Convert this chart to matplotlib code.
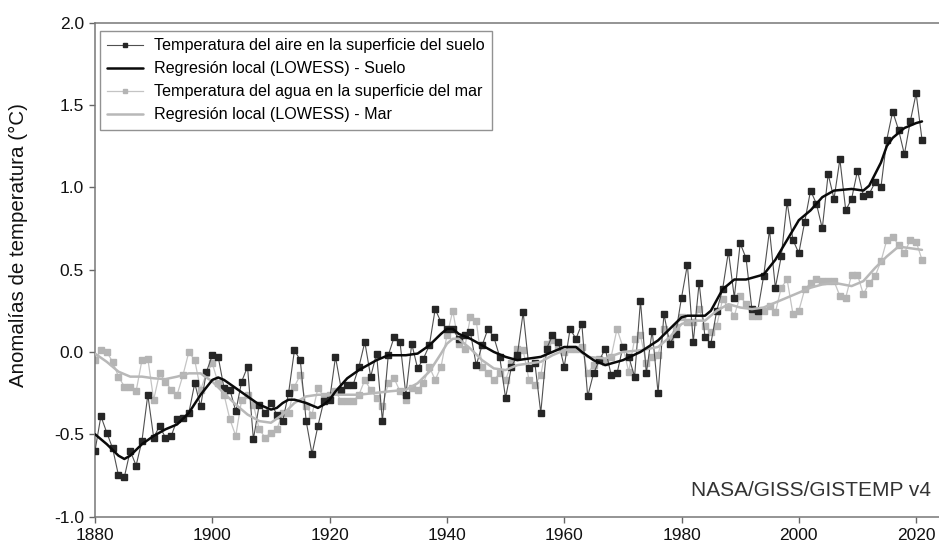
import numpy as np
import matplotlib
matplotlib.use("Agg")
import matplotlib.pyplot as plt

plt.rcParams['font.family'] = ['Liberation Sans', 'DejaVu Sans']

# Años 1880-2021
years = list(range(1880, 2022))

# Temperatura del aire en la superficie del suelo (°C)
land = [
    -0.60, -0.39, -0.49, -0.585, -0.75, -0.76, -0.60, -0.69, -0.54, -0.26,
    -0.52, -0.45, -0.52, -0.51, -0.41, -0.40, -0.37, -0.19, -0.33, -0.12,
    -0.02, -0.03, -0.22, -0.23, -0.36, -0.18, -0.09, -0.53, -0.32, -0.37,
    -0.31, -0.38, -0.42, -0.25, 0.01, -0.05, -0.42, -0.62, -0.45, -0.30,
    -0.29, -0.03, -0.23, -0.20, -0.20, -0.09, 0.06, -0.15, -0.01, -0.42,
    -0.02, 0.09, 0.06, -0.26, 0.05, -0.10, -0.04, 0.04, 0.26, 0.18,
    0.14, 0.14, 0.08, 0.10, 0.12, -0.08, 0.04, 0.14, 0.09, -0.03,
    -0.28, -0.09, -0.02, 0.24, -0.10, -0.07, -0.37, 0.02, 0.10, 0.06,
    -0.09, 0.14, 0.08, 0.17, -0.27, -0.13, -0.05, 0.02, -0.14, -0.13,
    0.03, -0.03, -0.15, 0.31, -0.13, 0.13, -0.25, 0.23, 0.05, 0.11,
    0.33, 0.53, 0.06, 0.42, 0.09, 0.05, 0.25, 0.38, 0.61, 0.33,
    0.66, 0.57, 0.26, 0.25, 0.46, 0.74, 0.39, 0.58, 0.91, 0.68,
    0.60, 0.79, 0.98, 0.90, 0.75, 1.08, 0.93, 1.17, 0.86, 0.93,
    1.10, 0.95, 0.96, 1.03, 1.00, 1.29, 1.46, 1.35, 1.20, 1.40,
    1.57, 1.29,
]

# Temperatura del agua en la superficie del mar (°C)
sea = [
    -0.05, 0.01, 0.00, -0.06, -0.15, -0.21, -0.21, -0.24, -0.05, -0.04,
    -0.29, -0.13, -0.18, -0.23, -0.26, -0.14, 0.00, -0.05, -0.23, -0.13,
    -0.07, -0.19, -0.26, -0.41, -0.51, -0.29, -0.26, -0.32, -0.47, -0.52,
    -0.49, -0.47, -0.37, -0.37, -0.21, -0.14, -0.33, -0.38, -0.22, -0.27,
    -0.26, -0.24, -0.30, -0.30, -0.30, -0.26, -0.17, -0.23, -0.28, -0.33,
    -0.19, -0.16, -0.24, -0.29, -0.22, -0.23, -0.19, -0.09, -0.17, -0.09,
    0.10, 0.25, 0.05, 0.02, 0.21, 0.19, -0.09, -0.13, -0.17, -0.13,
    -0.17, -0.07, 0.02, 0.01, -0.17, -0.20, -0.14, 0.05, 0.07, 0.03,
    0.00, 0.02, 0.02, 0.03, -0.13, -0.08, -0.04, -0.06, -0.03, 0.14,
    0.03, -0.12, 0.08, 0.10, -0.07, -0.03, -0.02, 0.14, 0.08, 0.15,
    0.21, 0.18, 0.18, 0.26, 0.16, 0.12, 0.16, 0.32, 0.27, 0.22,
    0.34, 0.29, 0.22, 0.22, 0.25, 0.28, 0.24, 0.39, 0.44, 0.23,
    0.25, 0.38, 0.42, 0.44, 0.43, 0.43, 0.43, 0.34, 0.33, 0.47,
    0.47, 0.35, 0.42, 0.46, 0.55, 0.68, 0.70, 0.65, 0.60, 0.68,
    0.67, 0.56,
]

# Regresión local (LOWESS)
lowess_land_years = [
    1880, 1882, 1884, 1885, 1886, 1888, 1890, 1892, 1894, 1896, 1898, 1900,
    1901, 1902, 1904, 1906, 1908, 1910, 1911, 1912, 1913, 1914, 1916, 1918,
    1919, 1920, 1921, 1923, 1925, 1928, 1930, 1933, 1935, 1937, 1939, 1940,
    1941, 1942, 1944, 1946, 1948, 1950, 1952, 1954, 1956, 1958, 1960, 1962,
    1963, 1965, 1967, 1970, 1973, 1976, 1978, 1980, 1981, 1982, 1983, 1984,
    1985, 1987, 1989, 1991, 1993, 1994, 1996, 1998, 2000, 2002, 2003, 2004,
    2006, 2009, 2011, 2012, 2014, 2015, 2016, 2018, 2020, 2021,
]
lowess_land = [
    -0.50, -0.56, -0.63, -0.65, -0.63, -0.56, -0.51, -0.47, -0.44, -0.37, -0.26, -0.17,
    -0.155, -0.17, -0.22, -0.27, -0.32, -0.35, -0.34, -0.31, -0.29, -0.29, -0.31, -0.34,
    -0.32, -0.29, -0.24, -0.16, -0.11, -0.05, -0.02, -0.02, -0.01, 0.04, 0.11, 0.14,
    0.14, 0.11, 0.08, 0.04, 0.00, -0.03, -0.05, -0.04, -0.03, 0.00, 0.03, 0.03,
    0.00, -0.05, -0.08, -0.05, 0.00, 0.07, 0.14, 0.21, 0.22, 0.22, 0.22, 0.22,
    0.25, 0.38, 0.44, 0.44, 0.46, 0.47, 0.56, 0.68, 0.80, 0.86, 0.90, 0.94,
    0.98, 0.99, 0.98, 1.01, 1.15, 1.25, 1.30, 1.36, 1.39, 1.40,
]

lowess_sea_years = [
    1880, 1882, 1884, 1886, 1888, 1890, 1892, 1894, 1896, 1898, 1900, 1902,
    1904, 1906, 1908, 1910, 1912, 1914, 1916, 1918, 1920, 1925, 1930, 1933,
    1935, 1937, 1939, 1940, 1941, 1942, 1944, 1946, 1948, 1950, 1952, 1954,
    1956, 1958, 1960, 1962, 1964, 1967, 1970, 1973, 1976, 1978, 1980, 1982,
    1984, 1986, 1988, 1990, 1992, 1994, 1996, 1998, 2000, 2002, 2004, 2006,
    2009, 2011, 2013, 2015, 2017, 2019, 2021,
]
lowess_sea = [
    -0.01, -0.06, -0.12, -0.15, -0.15, -0.16, -0.165, -0.15, -0.13, -0.13, -0.18, -0.25,
    -0.32, -0.38, -0.42, -0.43, -0.38, -0.31, -0.27, -0.26, -0.26, -0.26, -0.24, -0.23,
    -0.19, -0.12, -0.01, 0.05, 0.08, 0.08, 0.02, -0.05, -0.10, -0.11, -0.08, -0.07,
    -0.06, -0.02, 0.01, 0.02, -0.03, -0.04, 0.00, 0.01, 0.03, 0.09, 0.17, 0.19,
    0.19, 0.25, 0.29, 0.27, 0.26, 0.27, 0.30, 0.33, 0.36, 0.39, 0.41, 0.42,
    0.40, 0.43, 0.51, 0.58, 0.64, 0.63, 0.62,
]

fig = plt.figure(figsize=(9.39, 5.47), dpi=100)
ax = fig.add_axes([0.1012, 0.0556, 0.8988, 0.903])

ax.plot(years, sea, color='#c4c4c4', lw=0.9, marker='s', ms=4.4,
        mfc='#b4b4b4', mec='#b4b4b4', zorder=2,
        label='Temperatura del agua en la superficie del mar')
ax.plot(years, land, color='#505050', lw=0.8, marker='s', ms=4.4,
        mfc='#262626', mec='#262626', zorder=3,
        label='Temperatura del aire en la superficie del suelo')
ax.plot(lowess_sea_years, lowess_sea, color='#b8b8b8', lw=1.8, zorder=4,
        solid_capstyle='round', label='Regresión local (LOWESS) - Mar')
ax.plot(lowess_land_years, lowess_land, color='#0a0a0a', lw=1.8, zorder=5,
        solid_capstyle='round', label='Regresión local (LOWESS) - Suelo')

ax.set_xlim(1880, 2023.9)
ax.set_ylim(-1.0, 2.0)
ax.set_xticks(range(1880, 2021, 20))
ax.set_yticks(np.arange(-1.0, 2.01, 0.5))
ax.set_yticklabels([f'{v:.1f}' for v in np.arange(-1.0, 2.01, 0.5)])
ax.tick_params(direction='out', length=4, width=1, color='#666666',
               labelsize=12.5, pad=4, labelcolor='#111111')

for side in ['left', 'bottom', 'top']:
    ax.spines[side].set_color('#777777')
    ax.spines[side].set_linewidth(1.1)
ax.spines['right'].set_visible(False)

ax.set_ylabel('Anomalías de temperatura (°C)', fontsize=14.8, color='#111111')
ax.yaxis.set_label_coords(-0.079, 0.55)

handles, labels = ax.get_legend_handles_labels()
order = [1, 3, 0, 2]
leg = ax.legend([handles[i] for i in order], [labels[i] for i in order],
                loc='upper left', bbox_to_anchor=(0.006, 0.983), borderaxespad=0,
                fontsize=11.6, frameon=True, fancybox=False, edgecolor='#777777',
                handlelength=2.2, handletextpad=0.72, labelspacing=0.5,
                borderpad=0.45, markerscale=0.6)
leg.get_frame().set_linewidth(1.0)

ax.text(0.991, 0.052, 'NASA/GISS/GISTEMP v4', transform=ax.transAxes,
        ha='right', va='center', fontsize=15, color='#333333')

fig.savefig('out.png', dpi=100)
